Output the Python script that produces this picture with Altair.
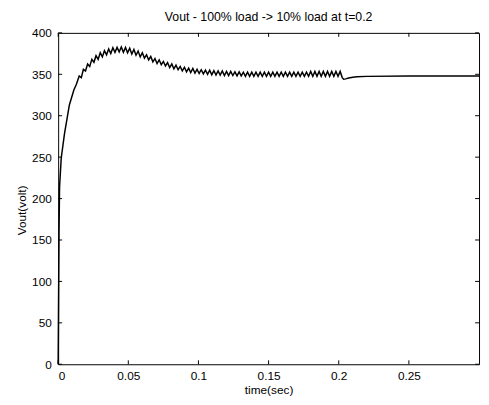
import altair as alt
import pandas as pd

# ---- data ----
rise_t = [0.0, 0.0003, 0.0006, 0.0010, 0.0022, 0.0045, 0.0080, 0.0112, 0.0130]
rise_v = [0, 80, 159, 214, 249, 278, 313, 331, 338]

ripple_t = [
    0.0150, 0.0165, 0.0180, 0.0195, 0.0210, 0.0225, 0.0240, 0.0255, 0.0270, 0.0285,
    0.0300, 0.0315, 0.0330, 0.0345, 0.0360, 0.0375, 0.0390, 0.0405, 0.0420, 0.0435,
    0.0450, 0.0465, 0.0480, 0.0495, 0.0510, 0.0525, 0.0540, 0.0555, 0.0570, 0.0585,
    0.0600, 0.0615, 0.0630, 0.0645, 0.0660, 0.0675, 0.0690, 0.0705, 0.0720, 0.0735,
    0.0750, 0.0765, 0.0780, 0.0795, 0.0810, 0.0825, 0.0840, 0.0855, 0.0870, 0.0885,
    0.0900, 0.0915, 0.0930, 0.0945, 0.0960, 0.0975, 0.0990, 0.1005, 0.1020, 0.1035,
    0.1050, 0.1065, 0.1080, 0.1095, 0.1110, 0.1125, 0.1140, 0.1155, 0.1170, 0.1185,
    0.1200, 0.1215, 0.1230, 0.1245, 0.1260, 0.1275, 0.1290, 0.1305, 0.1320, 0.1335,
    0.1350, 0.1365, 0.1380, 0.1395, 0.1410, 0.1425, 0.1440, 0.1455, 0.1470, 0.1485,
    0.1500, 0.1515, 0.1530, 0.1545, 0.1560, 0.1575, 0.1590, 0.1605, 0.1620, 0.1635,
    0.1650, 0.1665, 0.1680, 0.1695, 0.1710, 0.1725, 0.1740, 0.1755, 0.1770, 0.1785,
    0.1800, 0.1815, 0.1830, 0.1845, 0.1860, 0.1875, 0.1890, 0.1905, 0.1920, 0.1935,
    0.1950, 0.1965, 0.1980, 0.1995, 0.2010,
]
ripple_v = [
    348, 346, 356, 354, 362.5, 359.5, 368, 364.5, 372.5, 368,
    376, 371, 378.5, 373.5, 380.5, 375, 382, 376.5, 382.5, 377,
    383, 376.5, 382.5, 376, 381.5, 374.5, 380, 373, 378, 371,
    376, 369.5, 373.5, 367.5, 371.5, 365, 369, 363, 367.5, 361.5,
    365.5, 360, 364, 358, 362.5, 356.5, 361, 355.5, 359.5, 354,
    358.5, 353, 357.5, 352, 357, 351.5, 356, 351, 355.5, 350.5,
    355, 350, 355, 349.5, 354.5, 349, 354, 349, 354, 348.5,
    353.5, 348.5, 353.5, 348.5, 353, 348, 353, 348, 352.5, 347.5,
    352.5, 347.5, 352.5, 347.5, 352.5, 347.5, 352.5, 347.5, 352.5, 347.5,
    352.5, 347.5, 352.5, 347.5, 352.5, 347.5, 352.5, 347.5, 352.5, 347.5,
    352.5, 347.5, 352.5, 347.5, 352.5, 347.5, 352.5, 347.5, 352.5, 347.5,
    353.5, 347.5, 353.5, 347.5, 353.5, 347.5, 353.5, 347.5, 353.5, 347.5,
    353.5, 347.5, 353.5, 347.5, 353.5,
]

tail_t = [0.2025, 0.2035, 0.2050, 0.2070, 0.2100, 0.2130, 0.2200, 0.2500, 0.3000]
tail_v = [346, 344, 344.5, 345.5, 346.5, 347, 347.5, 348, 348]

x_ticks = [0, 0.05, 0.1, 0.15, 0.2, 0.25]
y_ticks = [0, 50, 100, 150, 200, 250, 300, 350, 400]

title_text = "Vout - 100% load -> 10% load at t=0.2"
x_title = "time(sec)"
y_title = "Vout(volt)"

# ---- build ----
t_all = rise_t + ripple_t + tail_t
v_all = rise_v + ripple_v + tail_v
df = pd.DataFrame({"t": t_all, "v": v_all, "i": list(range(len(t_all)))})
dfx = pd.DataFrame({"t": x_ticks})
dfy = pd.DataFrame({"v": y_ticks})

W, H = 428, 337
FONT = "Liberation Sans"

xs = alt.Scale(domain=[0, 0.3], nice=False, zero=False)
ys = alt.Scale(domain=[0, 400], nice=False)

line = alt.Chart(df).mark_line(color="black", strokeWidth=1.5).encode(
    x=alt.X("t:Q", scale=xs, title=x_title,
            axis=alt.Axis(values=x_ticks, format="~g", tickSize=0, domain=False,
                          grid=False, labelPadding=6, titlePadding=4,
                          labelFontSize=12, titleFontSize=12)),
    y=alt.Y("v:Q", scale=ys, title=y_title,
            axis=alt.Axis(values=y_ticks, tickSize=0, domain=False, grid=False,
                          labelPadding=7, titlePadding=3, titleY=180,
                          labelFontSize=12, titleFontSize=12)),
    order="i:Q",
)

tick_bottom = alt.Chart(dfx).mark_rule(color="black").encode(
    x=alt.X("t:Q", scale=xs), y=alt.value(H), y2=alt.value(H - 4))
tick_top = alt.Chart(dfx).mark_rule(color="black").encode(
    x=alt.X("t:Q", scale=xs), y=alt.value(0), y2=alt.value(4))
tick_left = alt.Chart(dfy).mark_rule(color="black").encode(
    y=alt.Y("v:Q", scale=ys), x=alt.value(0), x2=alt.value(4))
tick_right = alt.Chart(dfy).mark_rule(color="black").encode(
    y=alt.Y("v:Q", scale=ys), x=alt.value(W), x2=alt.value(W - 4))

chart = alt.layer(line, tick_bottom, tick_top, tick_left, tick_right).properties(
    width=W, height=H,
    title=alt.TitleParams(title_text, fontSize=12.5, fontWeight="normal", font=FONT,
                          color="black", offset=4),
    autosize=alt.AutoSizeParams(type="none"),
    padding={"left": 51, "top": 22, "right": 2, "bottom": 30},
    background="white",
).configure_view(stroke="black", strokeWidth=1).configure_axis(
    labelFont=FONT, titleFont=FONT, labelColor="black", titleColor="black",
    titleFontWeight="normal",
)

chart.save("out.html", embed_options={"renderer": "svg", "actions": False})
